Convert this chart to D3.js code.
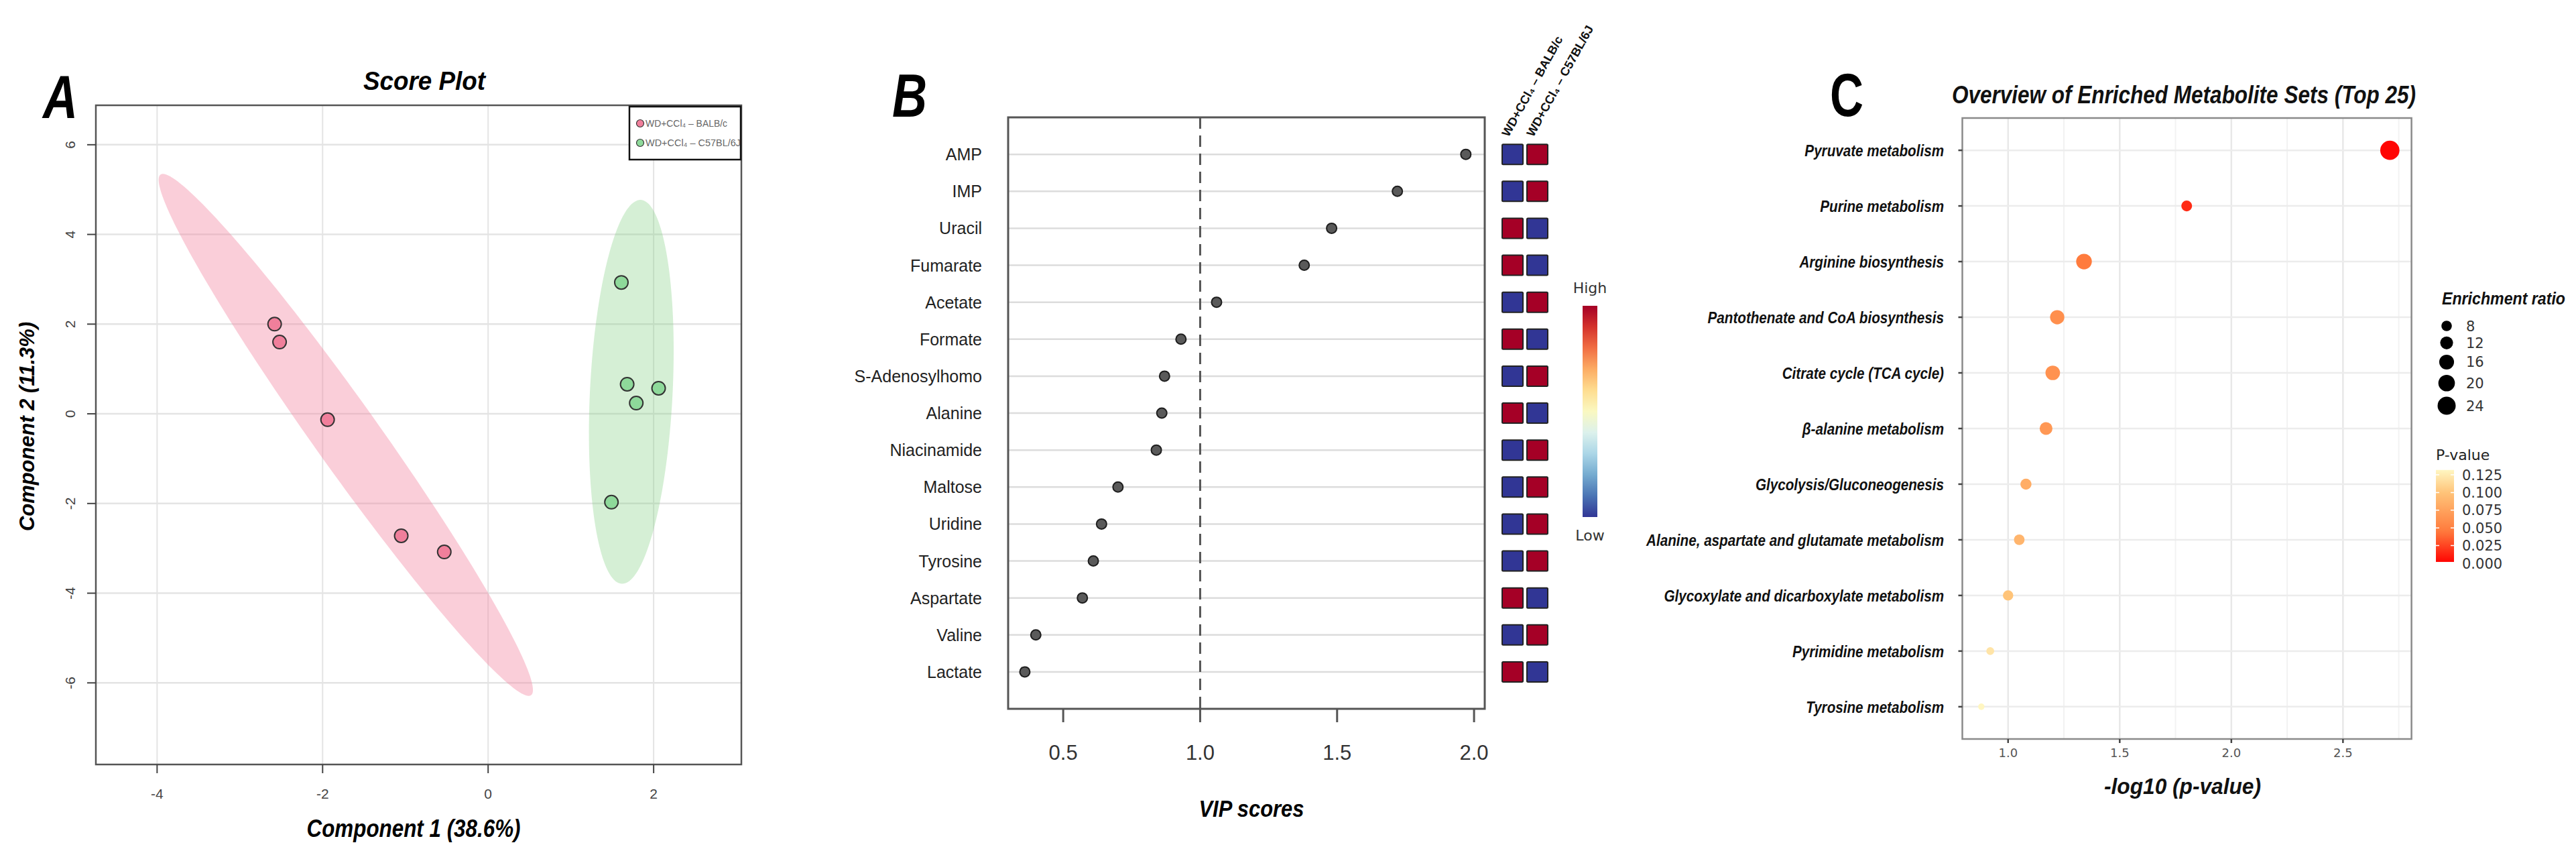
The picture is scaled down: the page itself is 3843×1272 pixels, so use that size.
<!DOCTYPE html>
<html><head><meta charset="utf-8">
<script src="https://cdn.jsdelivr.net/npm/d3@7"></script>
<style>body{margin:0;background:#fff}svg{display:block}</style>
</head><body><svg id="chart" width="3843" height="1272"></svg>
<script>
// ================= DATA =================
// Panel A – PLS-DA score plot
const groupNames = ["WD+CCl\u2084 \u2013 BALB/c", "WD+CCl\u2084 \u2013 C57BL/6J"];
const balbX = [-2.58, -2.52, -1.94, -1.05, -0.53];
const balbY = [2.00, 1.60, -0.13, -2.72, -3.08];
const c57X = [1.61, 1.68, 2.06, 1.79, 1.49];
const c57Y = [2.93, 0.66, 0.57, 0.24, -1.97];
// 95% regions: centre, major half-axis vector, conjugate half-axis vector (data units)
const ellipseCenterX = [-1.72, 1.73];
const ellipseCenterY = [-0.47, 0.49];
const ellipseMajorX = [-2.21, 0.11];
const ellipseMajorY = [5.82, 4.28];
const ellipseMinorX = [0.48, 0.50];
const ellipseMinorY = [0.0, 0.0];
const scoreXTicks = [-4, -2, 0, 2];
const scoreYTicks = [-6, -4, -2, 0, 2, 4, 6];

// Panel B – VIP scores
const metabolites = ["AMP","IMP","Uracil","Fumarate","Acetate","Formate","S-Adenosylhomo","Alanine",
  "Niacinamide","Maltose","Uridine","Tyrosine","Aspartate","Valine","Lactate"];
const vipScores = [1.97, 1.72, 1.48, 1.38, 1.06, 0.93, 0.87, 0.86, 0.84, 0.70, 0.64, 0.61, 0.57, 0.40, 0.36];
const balbLevel = [0, 0, 1, 1, 0, 1, 0, 1, 0, 0, 0, 0, 1, 0, 1];
const c57Level  = [1, 1, 0, 0, 1, 0, 1, 0, 1, 1, 1, 1, 0, 1, 0];
const vipTicks = [0.5, 1.0, 1.5, 2.0];

// Panel C – enrichment overview
const pathways = ["Pyruvate metabolism","Purine metabolism","Arginine biosynthesis",
  "Pantothenate and CoA biosynthesis","Citrate cycle (TCA cycle)","\u03b2-alanine metabolism",
  "Glycolysis/Gluconeogenesis","Alanine, aspartate and glutamate metabolism",
  "Glycoxylate and dicarboxylate metabolism","Pyrimidine metabolism","Tyrosine metabolism"];
const negLogP = [2.71, 1.80, 1.34, 1.22, 1.20, 1.17, 1.08, 1.05, 1.00, 0.92, 0.88];
const enrichmentRatio = [27, 8.5, 18, 15, 15.5, 12, 9, 8.2, 7.8, 4.5, 3];
const logPTicks = [1.0, 1.5, 2.0, 2.5];
const logPMinor = [1.25, 1.75, 2.25, 2.75];
const sizeLegendValues = [8, 12, 16, 20, 24];
const pLegendValues = [0, 0.025, 0.05, 0.075, 0.1, 0.125];

// ================= HELPERS =================
const svg = d3.select("#chart");
const SANS = "'Liberation Sans', Arial, sans-serif";
const DJV = "'DejaVu Sans', Verdana, sans-serif";
function fit(sel, len){ sel.attr("textLength", len).attr("lengthAdjust", "spacingAndGlyphs"); return sel; }
function squeeze(sel, f){
  sel.each(function(){ const w = this.getComputedTextLength();
    d3.select(this).attr("textLength", w * f).attr("lengthAdjust", "spacingAndGlyphs"); });
  return sel;
}
function letter(x, y, t, italic){
  const s = svg.append("text").attr("x", x).attr("y", y).attr("text-anchor", "middle")
    .attr("font-family", SANS).attr("font-weight", "bold").attr("font-style", italic ? "italic" : "normal")
    .attr("font-size", 90).attr("fill", "#000").text(t);
  fit(s, 52);
}

// ================= PANEL A =================
(function(){
  const L = 143, R = 1106, T = 157, B = 1140;
  const x = d3.scaleLinear().domain([-4.74, 3.06]).range([L, R]);
  const y = d3.scaleLinear().domain([-7.82, 6.88]).range([B, T]);
  const g = svg.append("g");
  // grid
  g.selectAll(".gx").data(scoreXTicks).join("line")
    .attr("x1", d => x(d)).attr("x2", d => x(d)).attr("y1", T).attr("y2", B)
    .attr("stroke", "#e4e4e4").attr("stroke-width", 2);
  g.selectAll(".gy").data(scoreYTicks).join("line")
    .attr("y1", d => y(d)).attr("y2", d => y(d)).attr("x1", L).attr("x2", R)
    .attr("stroke", "#e4e4e4").attr("stroke-width", 2.5);
  // ellipses
  const fills = ["#F2859F", "#7FCF80"], ops = [0.4, 0.33];
  const ts = d3.range(0, 2 * Math.PI, Math.PI / 90);
  ellipseCenterX.forEach((cx, i) => {
    const pts = ts.map(t => [
      x(cx + ellipseMajorX[i] * Math.cos(t) + ellipseMinorX[i] * Math.sin(t)),
      y(ellipseCenterY[i] + ellipseMajorY[i] * Math.cos(t) + ellipseMinorY[i] * Math.sin(t))]);
    g.append("path").attr("d", d3.line().curve(d3.curveLinearClosed)(pts))
      .attr("fill", fills[i]).attr("fill-opacity", ops[i]);
  });
  // points
  const ptCol = ["#F07F9B", "#8ED99A"];
  [[balbX, balbY], [c57X, c57Y]].forEach(([xs, ys], gi) => {
    g.selectAll(null).data(xs).join("circle")
      .attr("cx", d => x(d)).attr("cy", (d, i) => y(ys[i])).attr("r", 10)
      .attr("fill", ptCol[gi]).attr("stroke", "#333").attr("stroke-width", 2);
  });
  // frame
  g.append("rect").attr("x", L).attr("y", T).attr("width", R - L).attr("height", B - T)
    .attr("fill", "none").attr("stroke", "#555").attr("stroke-width", 2.5);
  // ticks
  g.selectAll(".tx").data(scoreXTicks).join("line")
    .attr("x1", d => x(d)).attr("x2", d => x(d)).attr("y1", B).attr("y2", B + 13)
    .attr("stroke", "#444").attr("stroke-width", 2);
  g.selectAll(".tlx").data(scoreXTicks).join("text")
    .attr("x", d => x(d)).attr("y", B + 51).attr("text-anchor", "middle")
    .attr("font-family", SANS).attr("font-size", 21).attr("fill", "#444").text(d => d);
  g.selectAll(".ty").data(scoreYTicks).join("line")
    .attr("y1", d => y(d)).attr("y2", d => y(d)).attr("x1", L - 13).attr("x2", L)
    .attr("stroke", "#444").attr("stroke-width", 2);
  g.selectAll(".tly").data(scoreYTicks).join("text")
    .attr("transform", d => `translate(105,${y(d)}) rotate(-90)`).attr("dy", "0.35em")
    .attr("text-anchor", "middle").attr("font-family", SANS).attr("font-size", 21)
    .attr("fill", "#444").text(d => d);
  // titles
  fit(g.append("text").attr("x", 633).attr("y", 134).attr("text-anchor", "middle")
    .attr("font-family", SANS).attr("font-weight", "bold").attr("font-style", "italic")
    .attr("font-size", 38).text("Score Plot"), 182);
  fit(g.append("text").attr("x", 617).attr("y", 1248).attr("text-anchor", "middle")
    .attr("font-family", SANS).attr("font-weight", "bold").attr("font-style", "italic")
    .attr("font-size", 37).text("Component 1 (38.6%)"), 319);
  fit(g.append("text").attr("transform", "translate(51,636) rotate(-90)").attr("text-anchor", "middle")
    .attr("font-family", SANS).attr("font-weight", "bold").attr("font-style", "italic")
    .attr("font-size", 32).text("Component 2 (11.3%)"), 312);
  // legend
  g.append("rect").attr("x", 939).attr("y", 159).attr("width", 166).attr("height", 79)
    .attr("fill", "#fff").attr("stroke", "#111").attr("stroke-width", 2.5);
  groupNames.forEach((n, i) => {
    g.append("circle").attr("cx", 955).attr("cy", 184 + i * 29).attr("r", 5.5)
      .attr("fill", ptCol[i]).attr("stroke", "#333").attr("stroke-width", 1.2);
    fit(g.append("text").attr("x", 963).attr("y", 189 + i * 29).attr("font-family", SANS)
      .attr("font-size", 15).attr("fill", "#666").text(n), i ? 142 : 122);
  });
  letter(90, 176, "A", true);
})();

// ================= PANEL B =================
(function(){
  const L = 1504, R = 2215, T = 175, B = 1057;
  const x = d3.scaleLinear().domain([0.299, 2.039]).range([L, R]);
  const y = d3.scalePoint().domain(metabolites).range([T, B]).padding(1);
  const g = svg.append("g");
  g.selectAll(".grid").data(metabolites).join("line")
    .attr("x1", L).attr("x2", R).attr("y1", d => y(d)).attr("y2", d => y(d))
    .attr("stroke", "#dcdcdc").attr("stroke-width", 2.5);
  g.append("line").attr("x1", x(1)).attr("x2", x(1)).attr("y1", T).attr("y2", B)
    .attr("stroke", "#555").attr("stroke-width", 3).attr("stroke-dasharray", "17,10");
  g.selectAll(".pt").data(metabolites).join("circle")
    .attr("cx", (d, i) => x(vipScores[i])).attr("cy", d => y(d)).attr("r", 7.5)
    .attr("fill", "#5a5a5a").attr("stroke", "#1e1e1e").attr("stroke-width", 2);
  g.append("rect").attr("x", L).attr("y", T).attr("width", R - L).attr("height", B - T)
    .attr("fill", "none").attr("stroke", "#555").attr("stroke-width", 3);
  g.selectAll(".tk").data(vipTicks).join("line")
    .attr("x1", d => x(d)).attr("x2", d => x(d)).attr("y1", B).attr("y2", B + 20)
    .attr("stroke", "#555").attr("stroke-width", 3);
  g.selectAll(".tl").data(vipTicks).join("text")
    .attr("x", d => x(d)).attr("y", B + 76).attr("text-anchor", "middle")
    .attr("font-family", SANS).attr("font-size", 31).attr("fill", "#333").text(d => d.toFixed(1));
  g.selectAll(".yl").data(metabolites).join("text")
    .attr("x", 1465).attr("y", d => y(d)).attr("dy", "0.36em").attr("text-anchor", "end")
    .attr("font-family", SANS).attr("font-size", 25).attr("fill", "#222").text(d => d);
  fit(g.append("text").attr("x", 1867).attr("y", 1218).attr("text-anchor", "middle")
    .attr("font-family", SANS).attr("font-weight", "bold").attr("font-style", "italic")
    .attr("font-size", 35).text("VIP scores"), 157);
  // heat cells
  const col = d3.scaleBand().domain(groupNames).range([2241, 2309]).paddingInner(0.16);
  const levels = [balbLevel, c57Level];
  groupNames.forEach((gn, gi) => {
    g.selectAll(null).data(metabolites).join("rect")
      .attr("x", col(gn)).attr("y", d => y(d) - 15).attr("width", col.bandwidth()).attr("height", 30)
      .attr("rx", 1.5)
      .attr("fill", (d, i) => d3.interpolateRdYlBu(1 - levels[gi][i]))
      .attr("stroke", "#222").attr("stroke-width", 2);
    fit(g.append("text")
      .attr("transform", `translate(${col(gn) + col.bandwidth() / 2 - 6},205) rotate(-61)`)
      .attr("font-family", SANS).attr("font-weight", "bold").attr("font-size", 18)
      .attr("fill", "#111").text(gn), gi ? 186 : 168);
  });
  // colour bar
  const defs = svg.append("defs");
  const grad = defs.append("linearGradient").attr("id", "rdylbu").attr("x1", 0).attr("x2", 0).attr("y1", 0).attr("y2", 1);
  d3.range(0, 1.0001, 0.1).forEach(t => grad.append("stop").attr("offset", t).attr("stop-color", d3.interpolateRdYlBu(t)));
  g.append("rect").attr("x", 2361).attr("y", 456).attr("width", 22).attr("height", 315).attr("fill", "url(#rdylbu)");
  g.append("text").attr("x", 2372).attr("y", 437).attr("text-anchor", "middle").attr("font-family", DJV)
    .attr("font-size", 22).attr("fill", "#333").text("High");
  g.append("text").attr("x", 2372).attr("y", 806).attr("text-anchor", "middle").attr("font-family", DJV)
    .attr("font-size", 22).attr("fill", "#333").text("Low");
  letter(1357, 174, "B", true);
})();

// ================= PANEL C =================
(function(){
  const L = 2927.5, R = 3597.6, T = 176, B = 1102;
  const x = d3.scaleLinear().domain([0.795, 2.807]).range([L, R]);
  const y = d3.scalePoint().domain(pathways).range([T, B]).padding(0.58);
  const size = d3.scaleSqrt().domain([0, 24]).range([0, 13.5]);
  const pCol = d3.scaleLinear().domain([0, 0.045, 0.1, 0.135])
    .range(["#FF0000", "#FF7A3C", "#FFC479", "#FFFBC8"]).clamp(true);
  const g = svg.append("g");
  g.selectAll(".mn").data(logPMinor).join("line")
    .attr("x1", d => x(d)).attr("x2", d => x(d)).attr("y1", T).attr("y2", B)
    .attr("stroke", "#f2f2f2").attr("stroke-width", 2);
  g.selectAll(".mj").data(logPTicks).join("line")
    .attr("x1", d => x(d)).attr("x2", d => x(d)).attr("y1", T).attr("y2", B)
    .attr("stroke", "#e8e8e8").attr("stroke-width", 2.5);
  g.selectAll(".hg").data(pathways).join("line")
    .attr("x1", L).attr("x2", R).attr("y1", d => y(d)).attr("y2", d => y(d))
    .attr("stroke", "#ececec").attr("stroke-width", 2.5);
  g.selectAll(".pt").data(pathways).join("circle")
    .attr("cx", (d, i) => x(negLogP[i])).attr("cy", d => y(d))
    .attr("r", (d, i) => size(enrichmentRatio[i]))
    .attr("fill", (d, i) => pCol(Math.pow(10, -negLogP[i])));
  g.append("rect").attr("x", L).attr("y", T).attr("width", R - L).attr("height", B - T)
    .attr("fill", "none").attr("stroke", "#8a8a8a").attr("stroke-width", 2.5);
  g.selectAll(".yt").data(pathways).join("line")
    .attr("x1", L - 6).attr("x2", L).attr("y1", d => y(d)).attr("y2", d => y(d))
    .attr("stroke", "#444").attr("stroke-width", 2.5);
  g.selectAll(".xt").data(logPTicks).join("line")
    .attr("x1", d => x(d)).attr("x2", d => x(d)).attr("y1", B).attr("y2", B + 6)
    .attr("stroke", "#444").attr("stroke-width", 2.5);
  g.selectAll(".xl").data(logPTicks).join("text")
    .attr("x", d => x(d)).attr("y", B + 27).attr("text-anchor", "middle")
    .attr("font-family", DJV).attr("font-size", 18).attr("fill", "#555").text(d => d.toFixed(1));
  squeeze(g.selectAll(".yl").data(pathways).join("text")
    .attr("x", 2900).attr("y", d => y(d)).attr("dy", "0.36em").attr("text-anchor", "end")
    .attr("font-family", SANS).attr("font-weight", "bold").attr("font-style", "italic")
    .attr("font-size", 24).attr("fill", "#111").text(d => d), 0.86);
  fit(g.append("text").attr("x", 2912).attr("y", 154)
    .attr("font-family", SANS).attr("font-weight", "bold").attr("font-style", "italic")
    .attr("font-size", 36).attr("fill", "#111").text("Overview of Enriched Metabolite Sets (Top 25)"), 692);
  fit(g.append("text").attr("x", 3256).attr("y", 1184).attr("text-anchor", "middle")
    .attr("font-family", SANS).attr("font-weight", "bold").attr("font-style", "italic")
    .attr("font-size", 34).attr("fill", "#111").text("-log10 (p-value)"), 234);
  // size legend
  fit(g.append("text").attr("x", 3643).attr("y", 454)
    .attr("font-family", SANS).attr("font-weight", "bold").attr("font-style", "italic")
    .attr("font-size", 25).attr("fill", "#111").text("Enrichment ratio"), 184);
  let cy = 486;
  const cys = sizeLegendValues.map((v, i) => {
    if (i > 0) cy += size(sizeLegendValues[i - 1]) + size(v) + 8;
    return cy;
  });
  g.selectAll(".sl").data(sizeLegendValues).join("circle")
    .attr("cx", 3650).attr("cy", (d, i) => cys[i]).attr("r", d => size(d)).attr("fill", "#000");
  g.selectAll(".slt").data(sizeLegendValues).join("text")
    .attr("x", 3679).attr("y", (d, i) => cys[i]).attr("dy", "0.36em")
    .attr("font-family", DJV).attr("font-size", 21).attr("fill", "#333").text(d => d);
  // p-value legend
  const pY = d3.scaleLinear().domain([0, 0.125]).range([840, 708]);
  const pMin = Math.pow(10, -d3.max(negLogP)), pMax = Math.pow(10, -d3.min(negLogP));
  const defs = svg.append("defs");
  const grad = defs.append("linearGradient").attr("id", "pgrad").attr("x1", 0).attr("x2", 0).attr("y1", 1).attr("y2", 0);
  d3.range(0, 1.0001, 0.05).forEach(t => grad.append("stop").attr("offset", t)
    .attr("stop-color", pCol(pMin + t * (pMax - pMin))));
  g.append("text").attr("x", 3634).attr("y", 686).attr("font-family", DJV)
    .attr("font-size", 22).attr("fill", "#222").text("P-value");
  g.append("rect").attr("x", 3634).attr("y", pY(pMax)).attr("width", 27)
    .attr("height", pY(pMin) - pY(pMax)).attr("fill", "url(#pgrad)");
  g.selectAll(".pk").data(pLegendValues.filter(v => v >= pMin)).join("path")
    .attr("d", d => `M3634,${pY(d)}h5M3661,${pY(d)}h-5`).attr("stroke", "#fff").attr("stroke-width", 1.5);
  g.selectAll(".pl").data(pLegendValues).join("text")
    .attr("x", 3673).attr("y", d => pY(d)).attr("dy", "0.36em")
    .attr("font-family", DJV).attr("font-size", 21).attr("fill", "#333").text(d => d.toFixed(3));
  const c = svg.append("text").attr("x", 2755).attr("y", 173).attr("text-anchor", "middle")
    .attr("font-family", SANS).attr("font-weight", "bold").attr("font-size", 90).attr("fill", "#000").text("C");
  fit(c, 50);
})();
</script></body></html>
